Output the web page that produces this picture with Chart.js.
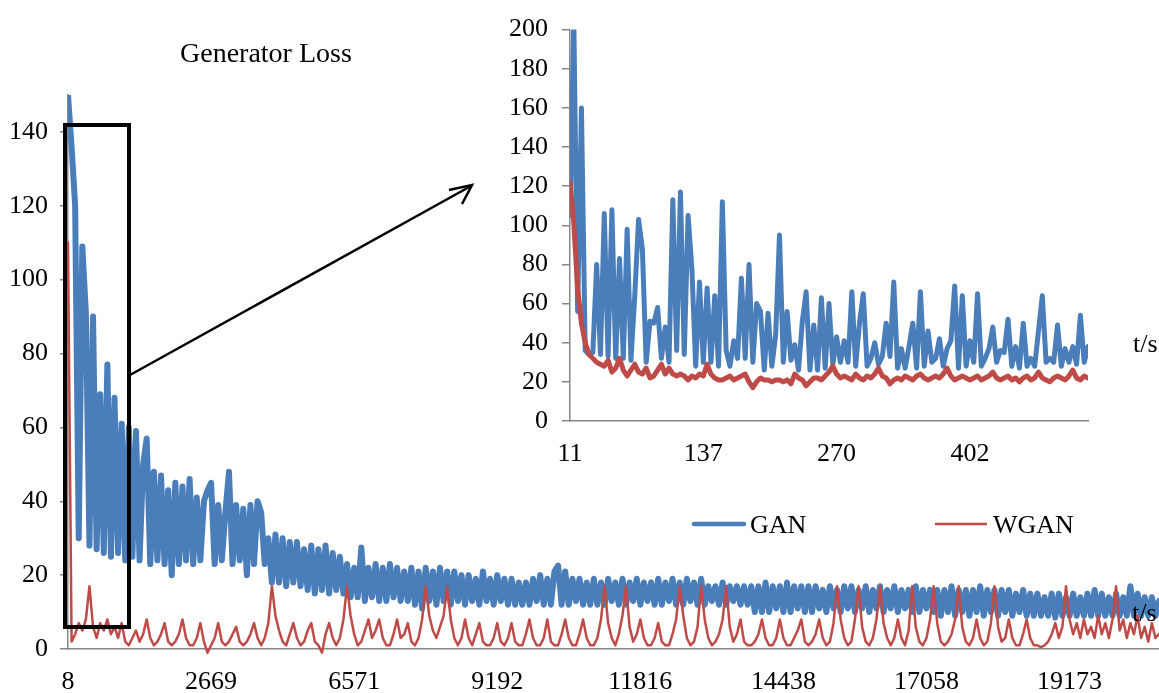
<!DOCTYPE html>
<html>
<head>
<meta charset="utf-8">
<script src="https://cdn.jsdelivr.net/npm/chart.js@4.4.1/dist/chart.umd.min.js"></script>
<style>
  body { margin: 0; background: #fff; overflow: hidden; }
  #wrap { position: relative; width: 1159px; height: 693px; }
  canvas, svg { position: absolute; left: 0; top: 0; }
  svg text { font-family: 'Liberation Serif', 'Times New Roman', serif; fill: #000; }
</style>
</head>
<body>
<div id="wrap">
  <canvas id="mainChart" width="1159" height="693"></canvas>
  <canvas id="insetChart" width="1159" height="693"></canvas>
  <svg width="1159" height="693">
    <text x="180" y="62" font-size="28">Generator Loss</text>
    <rect x="65" y="125" width="64" height="502" fill="none" stroke="#000" stroke-width="4"/>
    <line x1="130" y1="375" x2="471" y2="186" stroke="#000" stroke-width="2.5"/>
    <polyline points="449,190 472,185 462,204" fill="none" stroke="#000" stroke-width="2.5"/>
    <line x1="694" y1="524" x2="744" y2="524" stroke="#4A7EBB" stroke-width="4.5" stroke-linecap="round"/>
    <text x="750" y="533" font-size="26">GAN</text>
    <line x1="935" y1="524" x2="987" y2="524" stroke="#BE4B48" stroke-width="2.5"/>
    <text x="993" y="533" font-size="26">WGAN</text>
    <text x="1132" y="621" font-size="26">t/s</text>
    <text x="1133" y="352" font-size="26">t/s</text>
  </svg>
</div>
<script>
// main chart: tick labels (category labels shown every 40 points)
const mainXLabels = ['8', '2669', '6571', '9192', '11816', '14438', '17058', '19173'];
const mainXTicks = [0, 40, 80, 120, 160, 200, 240, 280];
const mainYTicks = [0, 20, 40, 60, 80, 100, 120, 140];

// GAN generator loss, full run
const ganMain = [
  150, 136, 120, 30, 109, 91, 28, 90, 27, 69,
  26, 77, 25, 68, 26, 61, 24, 60, 25, 59,
  24, 50, 57, 23, 48, 24, 47, 23, 43, 20,
  45, 23, 44, 24, 46, 23, 41, 24, 40, 43,
  45, 23, 39, 24, 37, 48, 23, 39, 24, 38,
  20, 39, 23, 40, 37, 23, 30, 18, 31, 18,
  30, 17, 29, 18, 29, 17, 27, 16, 28, 15,
  27, 16, 28, 15, 26, 16, 25, 15, 23, 14,
  22, 14, 27.5, 13, 22, 14, 23, 13, 22, 13,
  23, 14, 22, 13, 21, 13, 22, 12, 21, 11,
  22, 13, 21, 12, 22, 13, 21, 12, 21, 13,
  20, 12, 20, 13, 19, 12, 21, 13, 19, 12,
  20, 13, 19, 12, 19, 12, 18, 12, 18, 12,
  19, 13, 20, 12, 19, 12, 21, 22.6, 12, 21,
  12, 19, 13, 19, 12, 18, 12, 19, 12, 18,
  12, 19, 13, 18, 12, 19, 12, 18, 13, 19,
  12, 18, 13, 18, 12, 19, 12, 18, 13, 19,
  12, 18, 12, 19, 13, 18, 12, 19, 12, 17,
  13, 17, 12, 18, 12, 17, 13, 17, 12, 17,
  12, 17, 10, 17, 10, 18, 10, 17, 11, 17,
  10, 18, 10, 17, 11, 17, 10, 17, 10, 17,
  11, 16, 10, 17, 11, 16, 10, 17, 11, 17,
  10, 16, 11, 17, 10, 16, 11, 17, 10, 16,
  11, 17, 10, 16, 11, 16, 10, 17, 10, 16,
  11, 16, 10, 16, 9, 16, 10, 17, 9, 16,
  10, 16, 9, 16, 10, 17, 9, 16, 10, 16,
  9, 16, 10, 16, 9, 15, 10, 16, 9, 15,
  9, 15, 9, 14, 9, 15, 8.5, 15, 9, 14,
  9, 15, 9, 14, 9, 15, 9, 16, 9, 15,
  9, 14, 9, 15, 9, 14, 9, 17, 9, 15,
  9, 14, 9, 14, 9, 13
];

// WGAN generator loss, full run
const wganMain = [
  110, 2, 4, 7, 5, 8, 17, 6, 3, 7,
  5, 8, 4, 6, 3, 7, 2, 1, 3, 5,
  2, 4, 8, 3, 1, 2, 4, 7, 2, 1,
  2, 4, 8, 3, 1, 1, 3, 7, 2, -1,
  1, 3, 7, 2, 1, 2, 4, 6, 2, 1,
  2, 4, 7, 3, 1, 3, 7, 17, 9, 5,
  2, 1, 4, 7, 3, 1, 2, 5, 7, 2,
  1, -1, 4, 7, 3, 1, 3, 8, 17, 9,
  4, 1, 2, 5, 8, 3, 5, 8, 3, 1,
  1, 4, 8, 3, 4, 7, 2, 1, 3, 8,
  17, 9, 5, 3, 6, 9, 17, 8, 3, 1,
  3, 8, 3, 1, 4, 7, 2, 1, 1, 3,
  7, 2, 1, 3, 7, 2, 1, 1, 4, 8,
  3, 1, 1, 3, 8, 2, 1, 1, 4, 8,
  3, 1, 1, 4, 8, 3, 1, 1, 3, 8,
  17, 7, 3, 1, 4, 9, 17, 6, 2, 4,
  8, 3, 1, 1, 3, 7, 2, 1, 1, 4,
  8, 17, 9, 3, 1, 2, 6, 17, 8, 3,
  1, 2, 4, 8, 17, 6, 2, 4, 8, 2,
  1, 1, 2, 4, 8, 3, 1, 1, 3, 8,
  3, 1, 1, 3, 5, 8, 2, 1, 2, 4,
  8, 3, 1, 2, 7, 17, 8, 3, 1, 2,
  8, 17, 6, 2, 1, 3, 8, 17, 7, 3,
  1, 3, 8, 3, 1, 5, 17, 6, 2, 1,
  3, 8, 17, 7, 2, 1, 2, 4, 8, 17,
  6, 2, 1, 3, 8, 3, 1, 2, 7, 17,
  6, 2, 3, 8, 3, 1, 1, 4, 8, 3,
  1, 1, 0.5, 1, 2, 4, 7, 3, 6, 17,
  8, 4, 7, 3, 8, 4, 6, 3, 9, 4,
  7, 3, 8, 17, 5, 8, 3, 7, 4, 9,
  3, 6, 2, 7, 3, 4
];

// inset: first ~500 s
const insetXLabels = ['11', '137', '270', '402'];
const insetXTicks = [0, 35, 70, 105];
const insetYTicks = [0, 20, 40, 60, 80, 100, 120, 140, 160, 180, 200];

const ganInset = [
  105, 205, 56, 160, 36, 34, 35, 80, 34, 106,
  33, 108, 32, 83, 32, 98, 31, 64, 103, 88,
  30, 51, 50, 58, 32, 48, 30, 113, 36, 117,
  34, 105, 78, 28, 71, 30, 68, 30, 64, 28,
  112, 36, 28, 41, 32, 73, 32, 80, 30, 60,
  56, 26, 55, 28, 44, 95, 30, 56, 31, 39,
  26, 51, 66, 26, 49, 26, 63,
  27, 60, 29, 43, 30, 41, 30, 66, 28, 50,
  65, 28, 32, 40, 29, 33, 50, 33, 71, 27,
  37, 27, 38, 50, 27, 66, 28, 46, 30, 32,
  42, 28, 37, 41, 69, 27, 64, 28, 41, 30,
  65, 28, 32, 37, 48, 30, 36, 35, 52, 28,
  38, 27, 50, 28, 32, 28, 46, 64, 30, 32,
  30, 49, 28, 37, 30, 38, 29, 54, 30, 38
];

const wganInset = [
  122, 101, 68, 50, 40, 34, 32, 30, 29, 28,
  31, 25, 27, 32, 26, 23, 26, 29, 25, 24,
  27, 22, 23, 26, 29, 24, 27, 24, 23, 24,
  23, 21, 23, 22, 24, 23, 29, 24, 22, 21,
  21, 22, 23, 21, 22, 23, 24, 20, 17, 20,
  22, 21, 21, 20, 21, 21, 20, 21, 19, 24,
  22, 21, 18, 20, 22, 22, 21, 23, 25, 28,
  24, 22, 23, 22, 21, 24, 22, 21, 23, 22,
  24, 27, 23, 22, 19, 21, 22, 21, 23, 22,
  21, 23, 24, 22, 21, 22, 23, 22, 24, 27,
  23, 21, 22, 23, 22, 21, 22, 23, 21, 22,
  23, 25, 22, 21, 22, 23, 21, 22, 20, 22,
  23, 21, 22, 25, 22, 21, 20, 22, 23, 22,
  21, 23, 26, 22, 21, 23, 22
];

const BLUE = '#4A7EBB';
const RED = '#BE4B48';
const AXIS = '#878787';

Chart.defaults.font.family = "'Liberation Serif', 'Times New Roman', serif";
Chart.defaults.color = '#000';

function toPoints(values) {
  return values.map((v, i) => ({ x: i, y: v }));
}

const mainCtx = document.getElementById('mainChart').getContext('2d');
new Chart(mainCtx, {
  type: 'line',
  data: {
    datasets: [
      {
        label: 'GAN',
        data: toPoints(ganMain),
        borderColor: BLUE,
        borderWidth: 6,
        order: 1
      },
      {
        label: 'WGAN',
        data: toPoints(wganMain),
        borderColor: RED,
        borderWidth: 2.5,
        order: 0,
        clip: 6
      }
    ]
  },
  options: {
    responsive: false,
    devicePixelRatio: 1,
    animation: false,
    events: [],
    layout: { padding: { top: 95, left: 0, right: 0, bottom: 0 } },
    elements: {
      point: { radius: 0 },
      line: { tension: 0, borderJoinStyle: 'round', borderCapStyle: 'round' }
    },
    plugins: { legend: { display: false }, tooltip: { enabled: false } },
    scales: {
      x: {
        type: 'linear',
        min: 0,
        max: ganMain.length - 1,
        afterBuildTicks: (scale) => { scale.ticks = mainXTicks.map(v => ({ value: v })); },
        afterFit: (scale) => { scale.height = 44; },
        grid: { display: false },
        border: { display: true, color: AXIS, width: 1.5 },
        ticks: {
          autoSkip: false,
          maxRotation: 0,
          padding: 10,
          font: { size: 26 },
          callback: (value, index) => mainXLabels[index]
        }
      },
      y: {
        min: 0,
        max: 150,
        afterBuildTicks: (scale) => { scale.ticks = mainYTicks.map(v => ({ value: v })); },
        afterFit: (scale) => { scale.width = 68; },
        grid: { drawOnChartArea: false, drawTicks: true, tickLength: 8, color: AXIS, lineWidth: 1.5 },
        border: { display: true, color: AXIS, width: 1.5 },
        ticks: { padding: 12, font: { size: 26 } }
      }
    }
  }
});

const insetCtx = document.getElementById('insetChart').getContext('2d');
new Chart(insetCtx, {
  type: 'line',
  data: {
    datasets: [
      {
        label: 'GAN',
        data: toPoints(ganInset),
        borderColor: BLUE,
        borderWidth: 5,
        order: 1,
        clip: 0
      },
      {
        label: 'WGAN',
        data: toPoints(wganInset),
        borderColor: RED,
        borderWidth: 5,
        order: 0
      }
    ]
  },
  options: {
    responsive: false,
    devicePixelRatio: 1,
    animation: false,
    events: [],
    layout: { padding: { top: 25, left: 0, right: 71, bottom: 212 } },
    elements: {
      point: { radius: 0 },
      line: { tension: 0, borderJoinStyle: 'round', borderCapStyle: 'round' }
    },
    plugins: { legend: { display: false }, tooltip: { enabled: false } },
    scales: {
      x: {
        type: 'linear',
        min: 0,
        max: ganInset.length - 1,
        afterBuildTicks: (scale) => { scale.ticks = insetXTicks.map(v => ({ value: v })); },
        afterFit: (scale) => { scale.height = 60; },
        grid: { display: false },
        border: { display: true, color: AXIS, width: 1.5 },
        ticks: {
          autoSkip: false,
          maxRotation: 0,
          padding: 10,
          font: { size: 26 },
          callback: (value, index) => insetXLabels[index]
        }
      },
      y: {
        min: 0,
        max: 200,
        afterBuildTicks: (scale) => { scale.ticks = insetYTicks.map(v => ({ value: v })); },
        afterFit: (scale) => { scale.width = 570; },
        grid: { drawOnChartArea: false, drawTicks: true, tickLength: 8, color: AXIS, lineWidth: 1.5 },
        border: { display: true, color: AXIS, width: 1.5 },
        ticks: { padding: 14, font: { size: 26 } }
      }
    }
  }
});
</script>
</body>
</html>
